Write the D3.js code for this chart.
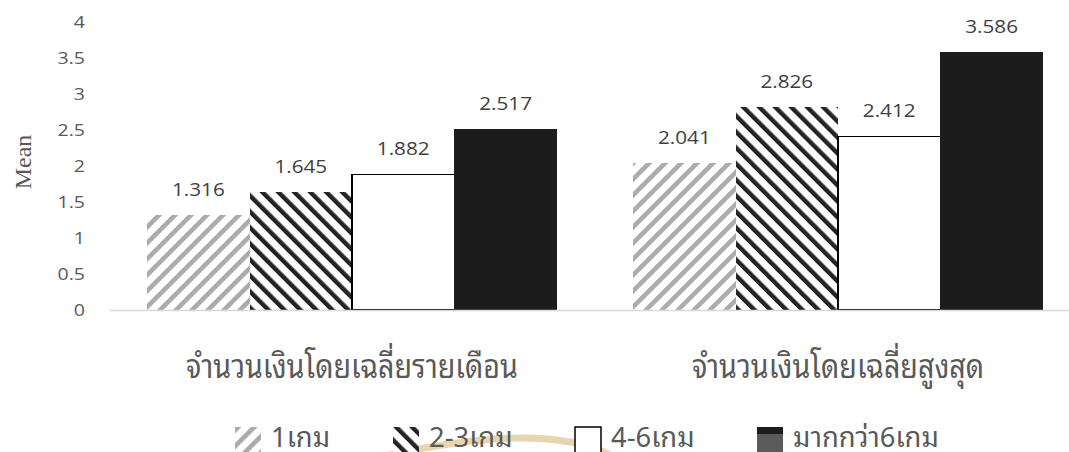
<!DOCTYPE html>
<html>
<head>
<meta charset="utf-8">
<script src="https://cdn.jsdelivr.net/npm/d3@7"></script>
<style>
  html, body { margin: 0; padding: 0; background: #ffffff; }
  svg { display: block; }
</style>
</head>
<body>
<svg id="chart" width="1069" height="452"></svg>
<script>
// Average spending by number of games played
const categories = ["จำนวนเงินโดยเฉลี่ยรายเดือน", "จำนวนเงินโดยเฉลี่ยสูงสุด"];
const seriesNames = ["1เกม", "2-3เกม", "4-6เกม", "มากกว่า6เกม"];
const oneGame = [1.316, 2.041];
const twoToThreeGames = [1.645, 2.826];
const fourToSixGames = [1.882, 2.412];
const moreThanSixGames = [2.517, 3.586];
const yTicks = [0, 0.5, 1, 1.5, 2, 2.5, 3, 3.5, 4];
const yTickLabels = ["0", "0.5", "1", "1.5", "2", "2.5", "3", "3.5", "4"];
const yTitle = "Mean";

const seriesValues = [oneGame, twoToThreeGames, fourToSixGames, moreThanSixGames];

const THAI_FONT = "'Noto Sans Thai Looped', 'Noto Serif Thai', 'Noto Sans Thai', Kinnari, Norasi, Laksaman, Loma, Garuda, sans-serif";
const NUM_FONT = "'Open Sans', 'Noto Sans', sans-serif";
const NUM_STRETCH = 1.15;

const svg = d3.select("#chart");

// Hatch fills
const defs = svg.append("defs");
function hatch(id, angle, color, thickness) {
  const size = 11.3;
  const p = defs.append("pattern")
    .attr("id", id)
    .attr("patternUnits", "userSpaceOnUse")
    .attr("width", size).attr("height", size)
    .attr("patternTransform", `rotate(${angle})`);
  p.append("rect").attr("width", size).attr("height", size).attr("fill", "#ffffff");
  p.append("rect").attr("width", thickness).attr("height", size).attr("fill", color);
}
hatch("hatch-up", 45, "#ababab", 4.6);
hatch("hatch-down", -45, "#242424", 4.4);

const seriesStyle = [
  { fill: "url(#hatch-up)", stroke: "none", sw: 0 },
  { fill: "url(#hatch-down)", stroke: "none", sw: 0 },
  { fill: "#ffffff", stroke: "#000000", sw: 1.5 },
  { fill: "#1c1c1c", stroke: "none", sw: 0 }
];

// Scales
const x0 = d3.scaleBand()
  .domain(categories)
  .range([109, 1081])
  .paddingInner(0.157)
  .paddingOuter(0.0785);
const x1 = d3.scaleBand()
  .domain(seriesNames)
  .range([0, x0.bandwidth()]);
const y = d3.scaleLinear().domain([0, 4]).range([310, 22]);

// Background emblem ring near the legend
svg.append("path")
  .attr("d", "M385,456 Q545,420 612,456")
  .attr("fill", "none")
  .attr("stroke", "#dcc48e")
  .attr("stroke-width", 7)
  .attr("opacity", 0.7);

// Y axis (labels only)
const yAxis = svg.append("g")
  .attr("transform", "translate(109,0)")
  .call(d3.axisLeft(y).tickValues(yTicks).tickFormat((d, i) => yTickLabels[i]).tickSize(0));
yAxis.select(".domain").remove();
yAxis.selectAll("text")
  .attr("x", 0)
  .attr("dy", "0.35em")
  .attr("transform", `translate(-24,0) scale(${NUM_STRETCH},1)`)
  .attr("fill", "#595959")
  .style("font-family", NUM_FONT)
  .style("font-size", "17px");

// Y axis title
svg.append("text")
  .attr("transform", "translate(31,162) rotate(-90)")
  .attr("text-anchor", "middle")
  .attr("fill", "#595959")
  .style("font-family", "'Liberation Serif', 'DejaVu Serif', serif")
  .style("font-size", "24px")
  .text(yTitle);

// Bars
const groups = svg.append("g").selectAll("g")
  .data(categories)
  .join("g")
  .attr("transform", d => `translate(${x0(d)},0)`);

groups.selectAll("rect")
  .data((c, ci) => seriesNames.map((s, si) => ({ s, si, v: seriesValues[si][ci] })))
  .join("rect")
  .attr("x", d => x1(d.s))
  .attr("y", d => y(d.v))
  .attr("width", x1.bandwidth())
  .attr("height", d => y(0) - y(d.v))
  .attr("fill", d => seriesStyle[d.si].fill)
  .attr("stroke", d => seriesStyle[d.si].stroke)
  .attr("stroke-width", d => seriesStyle[d.si].sw)
  .attr("shape-rendering", "crispEdges");

// Value labels
groups.selectAll("text.value")
  .data((c, ci) => seriesNames.map((s, si) => ({ s, si, v: seriesValues[si][ci] })))
  .join("text")
  .attr("class", "value")
  .attr("transform", d => `translate(${x1(d.s) + x1.bandwidth() / 2},${y(d.v) - 19}) scale(${NUM_STRETCH},1)`)
  .attr("text-anchor", "middle")
  .attr("fill", "#404040")
  .style("font-family", NUM_FONT)
  .style("font-size", "18px")
  .text(d => d3.format(".3f")(d.v));

// X axis with category labels
const xAxis = svg.append("g")
  .attr("transform", "translate(0,310)")
  .call(d3.axisBottom(x0).tickSize(0).tickSizeOuter(0));
xAxis.select(".domain")
  .attr("stroke", "#d9d9d9")
  .attr("stroke-width", 1.5);
const catText = xAxis.selectAll("text")
  .attr("y", 0)
  .attr("dy", 0)
  .attr("fill", "#595959")
  .style("font-family", THAI_FONT)
  .style("font-size", "33px");
const firstWidth = catText.nodes()[0].getComputedTextLength();
const catStretch = 332 / firstWidth;
catText.attr("transform", `translate(0,68) scale(${catStretch},1)`);

// Legend
const legendX = [235, 393, 575, 757];
const legend = svg.append("g").selectAll("g")
  .data(seriesNames)
  .join("g")
  .attr("transform", (d, i) => `translate(${legendX[i]},427)`);
legend.append("rect")
  .attr("width", 26).attr("height", 26)
  .attr("fill", (d, i) => seriesStyle[i].fill)
  .attr("stroke", (d, i) => i === 2 ? "#000000" : "none")
  .attr("stroke-width", 1.5);
legend.filter((d, i) => i === 3).append("rect")
  .attr("y", 7).attr("width", 26).attr("height", 19)
  .attr("fill", "#5a5a5a");
const legText = legend.append("text")
  .attr("fill", "#595959")
  .style("font-family", THAI_FONT)
  .style("font-size", "28px")
  .text(d => d);
const longest = legText.nodes()[3].getComputedTextLength();
const legStretch = 146 / longest;
legText.attr("transform", `translate(36,20) scale(${legStretch},1)`);
</script>
</body>
</html>
